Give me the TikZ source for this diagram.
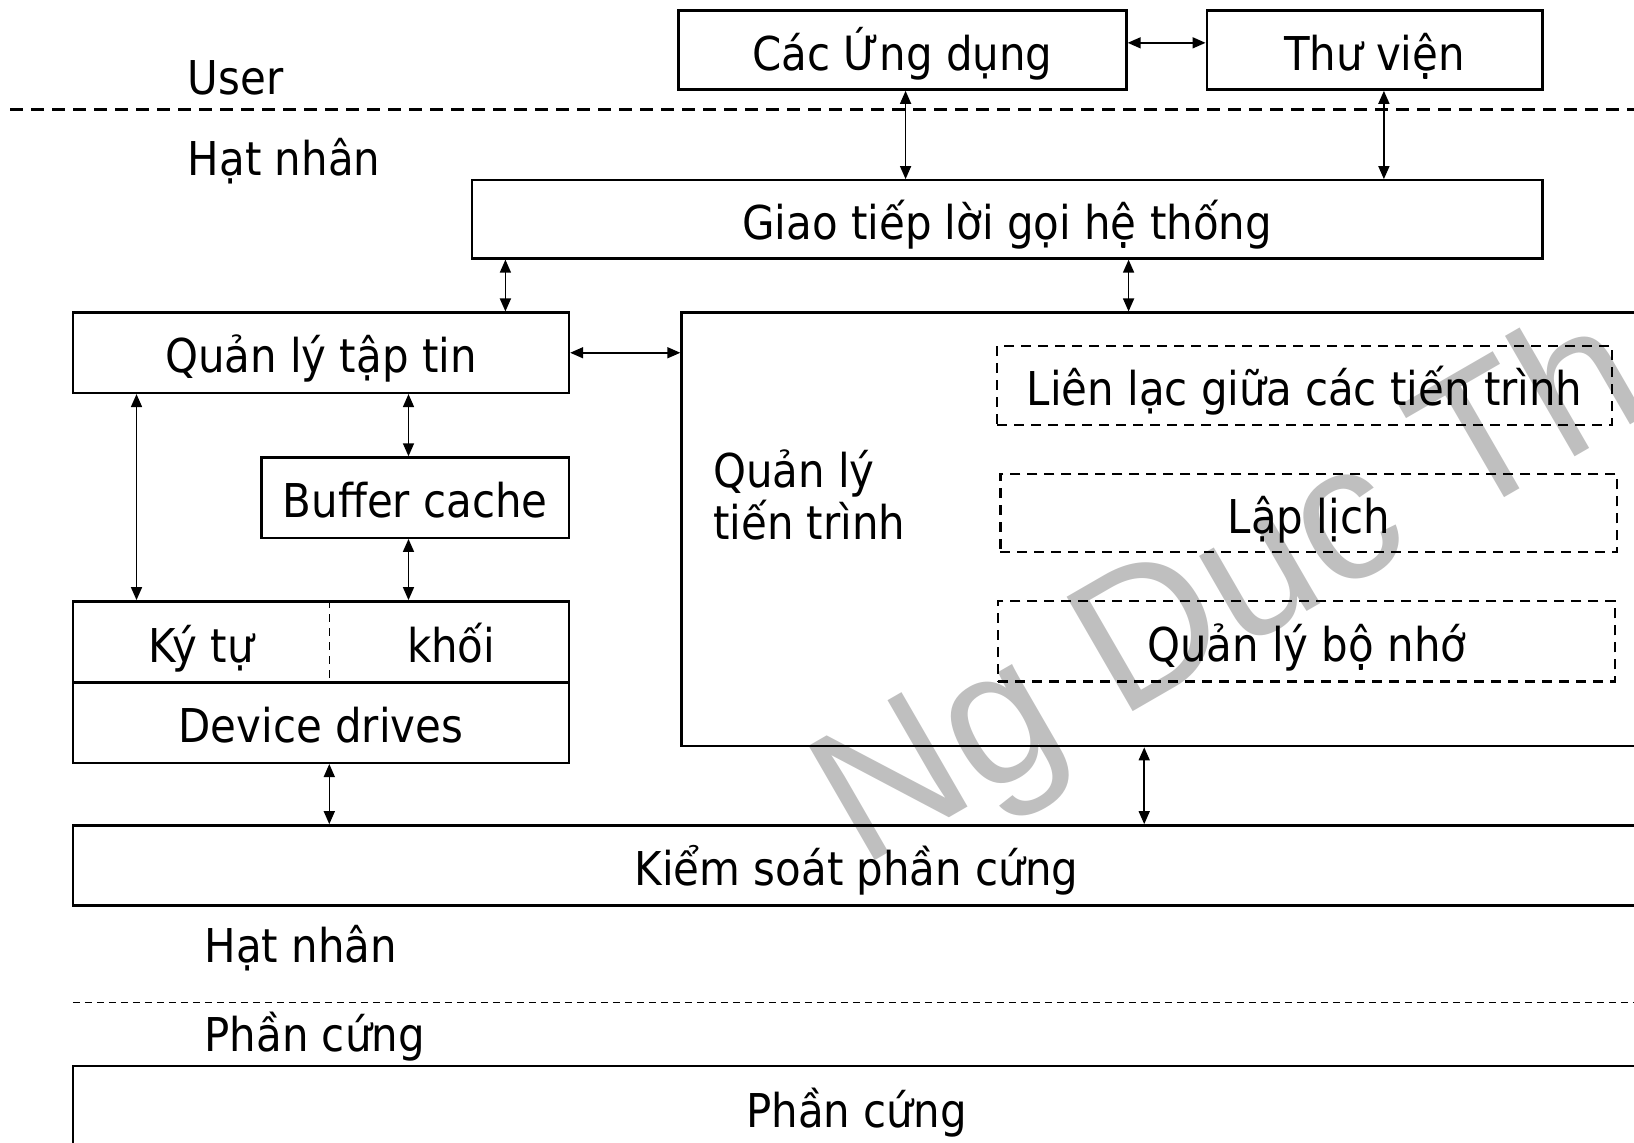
\documentclass[tikz,border=0pt]{standalone}
\usepackage{fontspec}
\setmainfont{DejaVu Sans Condensed}
\newfontfamily\wmfont{Liberation Sans}
\usetikzlibrary{arrows.meta}
\newcommand\bodysize{\fontsize{23.3}{26}\selectfont}
\newcommand\pxu{0.52105pt}

\begin{document}
\begin{tikzpicture}[x=0.52105pt,y=-0.52105pt,
  sz/.style 2 args={minimum width=#1*\pxu, minimum height=#2*\pxu},
  box/.style={draw, line width=1.2pt, inner sep=0pt, font=\bodysize,
    text height=20pt, text depth=0pt},
  dbox/.style={box, line width=1.1pt, dash pattern=on 5pt off 3.5pt},
  lbl/.style={inner sep=0pt, font=\bodysize},
  arr/.style={{Triangle[length=6.5pt,width=5.5pt]}-{Triangle[length=6.5pt,width=5.5pt]}, line width=0.8pt},
  sep/.style={line width=1.1pt, dash pattern=on 6.5pt off 4pt},
  finesep/.style={line width=0.9pt, dash pattern=on 3.5pt off 2.5pt},
  divider/.style={line width=0.8pt, dash pattern=on 4pt off 3pt},
  wm/.style={inner sep=0pt, text=black!25, font=\wmfont\fontsize{96}{96}\selectfont}]
\useasboundingbox (0,0) rectangle (1568,1096);
\clip (0,0) rectangle (1568,1096);

% watermark behind everything
\node[wm, rotate=30, anchor=base west] (wmark) at (826,834) {Ng Duc Th};

% user space
\node[box, sz={430}{76}] (apps) at (866,48) {Các Ứng dụng};
\node[box, sz={322}{76}] (lib) at (1319,48) {Thư viện};
\node[lbl, anchor=west] (user) at (180,75) {User};

% user / kernel boundary
\coordinate (s1a) at (10,105);
\coordinate (s1b) at (1568,105);
\draw[sep] (s1a) -- (s1b);
\node[lbl, anchor=west] (kern1) at (180,155) {Hạt nhân};

% kernel
\node[box, sz={1027}{75}] (syscall) at (966.5,210.5) {Giao tiếp lời gọi hệ thống};
\node[box, sz={476}{77}] (file) at (308,338.5) {Quản lý tập tin};
\node[box, sz={295}{77}] (buf) at (398.5,477.5) {Buffer cache};
\node[box, sz={476}{78}] (kbox) at (308,616) {};
\node[lbl, anchor=base] (chr) at (193,636) {Ký tự};
\node[lbl, anchor=base] (blk) at (433,636) {khối};
\node[box, sz={476}{77}] (dev) at (308,693.5) {Device drives};

\node[box, sz={926}{416}] (proc) at (1117,508) {};
\node[lbl, anchor=west, align=left] (proclbl) at (684,475) {Quản lý\\tiến trình};
\node[dbox, sz={590}{76}] (ipc) at (1252,370) {Liên lạc giữa các tiến trình};
\node[dbox, sz={592}{75}] (sched) at (1256,492.5) {Lập lịch};
\node[dbox, sz={592}{77}] (mem) at (1254,615.5) {Quản lý bộ nhớ};

\node[box, sz={1504}{77}] (hwctl) at (822,830.5) {Kiểm soát phần cứng};
\node[lbl, anchor=west] (kern2) at (196,910) {Hạt nhân};

% kernel / hardware boundary
\coordinate (s2a) at (70,962);
\coordinate (s2b) at (1568,962);
\draw[finesep] (s2a) -- (s2b);
\node[lbl, anchor=west] (hwlbl) at (196,995) {Phần cứng};
\node[box, sz={1504}{80}] (hw) at (822,1063) {Phần cứng};

% divider between character and block devices
\coordinate (xg) at (316,0);
\draw[divider] (kbox.north -| xg) -- (kbox.south -| xg);

% connectors
\coordinate (xa) at (869,0);
\coordinate (xb) at (1328,0);
\coordinate (xc) at (485,0);
\coordinate (xd) at (1083,0);
\coordinate (xe) at (131,0);
\coordinate (xf) at (392,0);
\coordinate (xh) at (1098,0);
\draw[arr] ([yshift=3.6pt]apps.east) -- ([yshift=3.6pt]lib.west);
\draw[arr] (apps.south -| xa) -- (syscall.north -| xa);
\draw[arr] (lib.south -| xb) -- (syscall.north -| xb);
\draw[arr] (syscall.south -| xc) -- (file.north -| xc);
\draw[arr] (syscall.south -| xd) -- (proc.north -| xd);
\draw[arr] (file.east) -- (file.east -| proc.west);
\draw[arr] (file.south -| xe) -- (kbox.north -| xe);
\draw[arr] (file.south -| xf) -- (buf.north -| xf);
\draw[arr] (buf.south -| xf) -- (kbox.north -| xf);
\draw[arr] (dev.south -| xg) -- (hwctl.north -| xg);
\draw[arr] (proc.south -| xh) -- (hwctl.north -| xh);
\end{tikzpicture}
\end{document}
